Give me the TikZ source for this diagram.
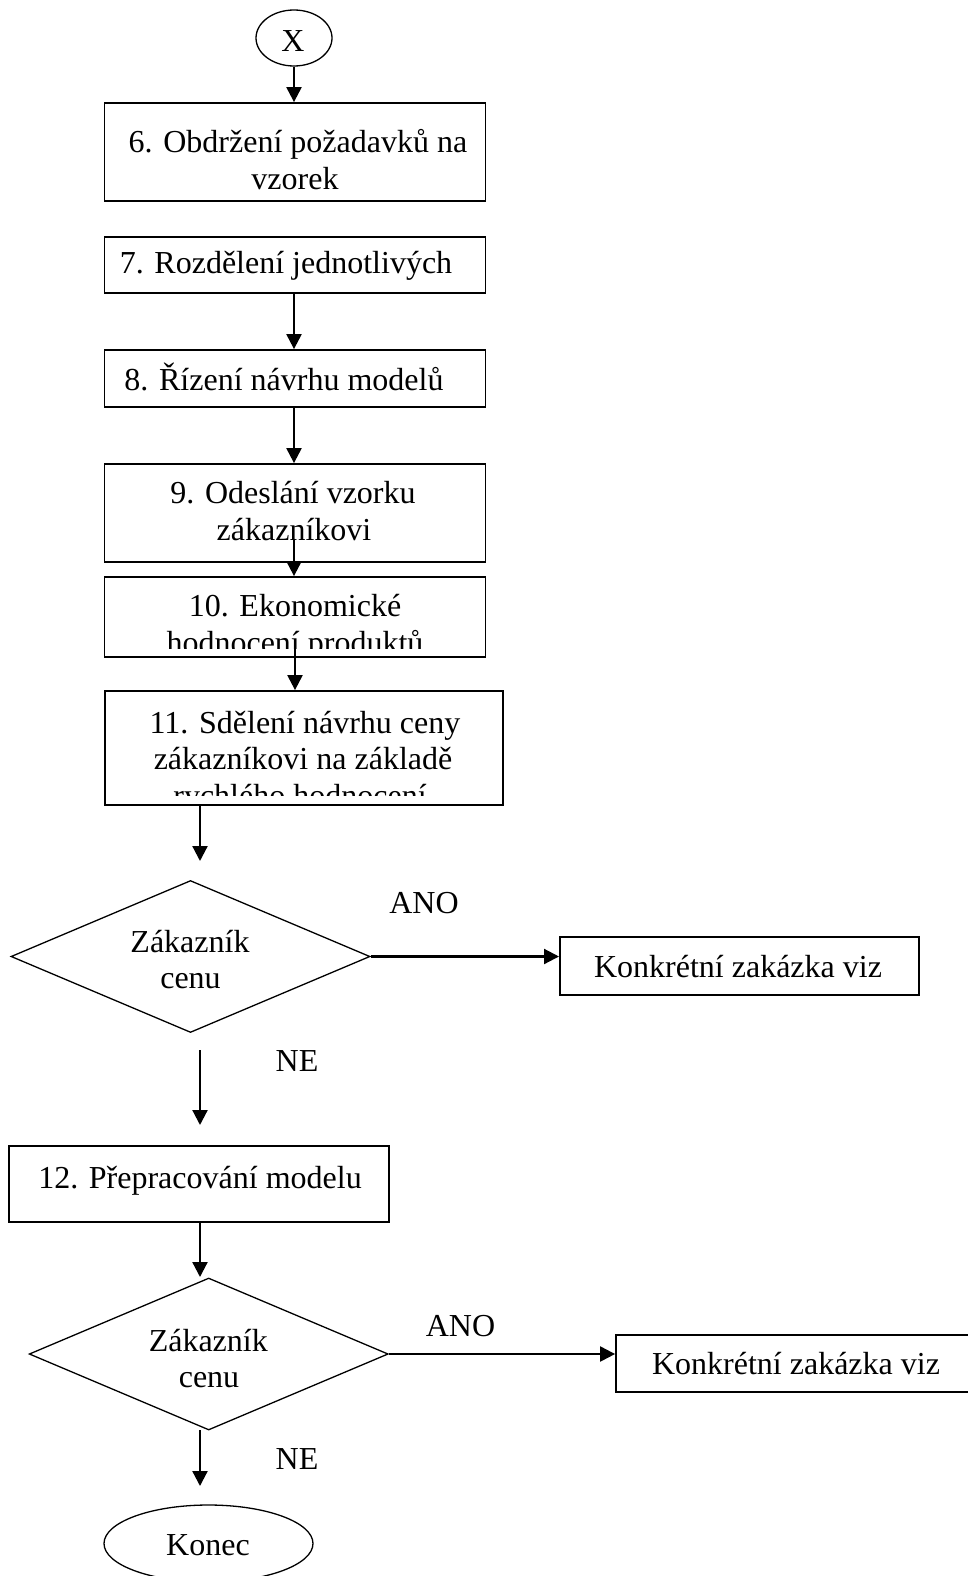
\documentclass[tikz,border=0pt]{standalone}
\usepackage{fontspec}
\setmainfont{Liberation Serif}
\usetikzlibrary{arrows.meta,shapes.geometric}
\begin{document}
\begin{tikzpicture}[x=1pt,y=-1pt,
  txt/.style={anchor=base, inner sep=0pt, font=\fontsize{32}{37}\selectfont},
  box/.style={draw, line width=1.8pt, inner sep=0pt},
  dia/.style={draw, shape=diamond, line width=1.3pt, inner sep=0pt, minimum width=359pt, minimum height=152pt},
  term/.style={draw, shape=ellipse, line width=1.3pt, inner sep=0pt},
  arr/.style={line width=2.2pt, -{Triangle[width=15pt,length=15pt]}}]
\useasboundingbox (0,0) rectangle (968,1576);

% terminal X
\node[term, minimum width=76pt, minimum height=56pt] (xc) at (294,38) {};
\node[txt] (xt) at (293,51.5) {X};

% boxes
\node[box, minimum width=381pt, minimum height=98pt] (b6) at (295,152) {};
\node[txt] (t6a) at (298,152) {6. Obdržení požadavků na};
\node[txt] (t6b) at (295,189) {vzorek};

\node[box, minimum width=381pt, minimum height=56pt] (b7) at (295,265) {};
\node[txt] (t7) at (286,273) {7. Rozdělení jednotlivých};

\node[box, minimum width=381pt, minimum height=57pt] (b8) at (295,378.5) {};
\node[txt] (t8) at (284,390) {8. Řízení návrhu modelů};

\node[box, minimum width=381pt, minimum height=98pt] (b9) at (295,513) {};
\node[txt] (t9a) at (293,503) {9. Odeslání vzorku};
\node[txt] (t9b) at (294,540.5) {zákazníkovi};

\node[box, minimum width=381pt, minimum height=80pt] (b10) at (295,617) {};
\begin{scope}
  \clip (104.5,577) rectangle (485.5,648);
  \node[txt] (t10a) at (295,616) {10. Ekonomické};
  \node[txt] (t10b) at (295,653) {hodnocení produktů};
\end{scope}

\node[box, minimum width=398pt, minimum height=114pt] (b11) at (304,748) {};
\begin{scope}
  \clip (105,691) rectangle (503,795);
  \node[txt] (t11a) at (305,733) {11. Sdělení návrhu ceny};
  \node[txt] (t11b) at (303,769.5) {zákazníkovi na základě};
  \node[txt] (t11c) at (300,806) {rychlého hodnocení};
\end{scope}

% decision 1
\node[dia] (d1) at (190.5,956.5) {};
\node[txt] (d1a) at (190,952) {Zákazník};
\node[txt] (d1b) at (190.5,988) {cenu};
\node[box, minimum width=359pt, minimum height=58pt] (k1) at (739.4,966.2) {};
\node[txt] (k1t) at (738,977) {Konkrétní zakázka viz};
\node[txt] (ano1) at (424,913) {ANO};
\node[txt] (ne1) at (297,1071.5) {NE};

% box 12
\node[box, minimum width=380pt, minimum height=76pt] (b12) at (199.2,1184) {};
\node[txt] (t12) at (200,1188) {12. Přepracování modelu};

% decision 2
\node[dia] (d2) at (208.7,1354) {};
\node[txt] (d2a) at (208.3,1351) {Zákazník};
\node[txt] (d2b) at (209,1387) {cenu};
\node[box, minimum width=359pt, minimum height=57pt] (k2) at (795.5,1363.5) {};
\node[txt] (k2t) at (796,1374.5) {Konkrétní zakázka viz};
\node[txt] (ano2) at (460.5,1336) {ANO};
\node[txt] (ne2) at (297,1469) {NE};

% end terminal
\node[term, minimum width=209pt, minimum height=77pt] (end) at (208.5,1543.5) {};
\node[txt] (endt) at (208,1555) {Konec};

% helper coordinates
\coordinate (c9) at (294,540);
\coordinate (c10) at (295,642);
\coordinate (e11) at (200,861);
\coordinate (n1s) at (200,1050);
\coordinate (n1e) at (200,1125);
\coordinate (e12) at (200,1277);
\coordinate (n2s) at (200,1430);
\coordinate (n2e) at (200,1486);

% connectors
\draw[arr] (xc.south) -- (xc.south |- b6.north);
\draw[arr] (b7.south -| xc.south) -- (b8.north -| xc.south);
\draw[arr] (b8.south -| xc.south) -- (b9.north -| xc.south);
\draw[arr] (c9) -- (c9 |- b10.north);
\draw[arr] (c10) -- (c10 |- b11.north);
\draw[arr] (b11.south -| e11) -- (e11);
\draw[arr] (d1.east) -- (d1.east -| k1.west);
\draw[arr] (n1s) -- (n1e);
\draw[arr] (b12.south -| e12) -- (e12);
\draw[arr] (d2.east) -- (d2.east -| k2.west);
\draw[arr] (n2s) -- (n2e);
\end{tikzpicture}
\end{document}
